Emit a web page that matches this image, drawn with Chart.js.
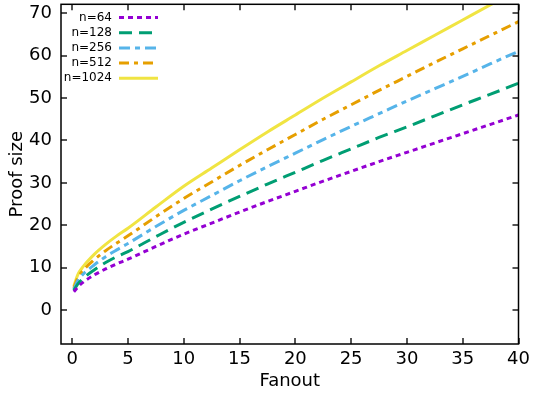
<!DOCTYPE html>
<html>
<head>
<meta charset="utf-8">
<script src="https://cdn.jsdelivr.net/npm/chart.js@4.4.0/dist/chart.umd.min.js"></script>
<style>
  html, body { margin: 0; padding: 0; background: #fff; }
  #wrap { width: 534px; height: 395px; }
</style>
</head>
<body>
<div id="wrap"><canvas id="c" width="534" height="395"></canvas></div>
<script>
// values
const fanout = [0.15, 0.5, 1, 2, 3, 4, 5, 7.5, 10, 12.5, 15, 17.5, 20, 22.5, 25, 27.5, 30, 32.5, 35, 37.5, 40];
const n64   = [4.3, 5.4, 6.6, 8.3, 9.7, 10.9, 12.0, 15.0, 17.9, 20.5, 23.1, 25.6, 28.0, 30.4, 32.7, 35.0, 37.2, 39.4, 41.6, 43.8, 46.0];
const n128  = [4.6, 6.1, 7.5, 9.5, 11.2, 12.6, 13.8, 17.3, 20.7, 23.8, 26.8, 29.7, 32.5, 35.3, 38.0, 40.7, 43.2, 45.8, 48.4, 50.9, 53.5];
const n256  = [4.9, 6.9, 8.5, 10.7, 12.6, 14.2, 15.7, 19.7, 23.5, 27.0, 30.5, 33.8, 37.0, 40.2, 43.3, 46.3, 49.3, 52.2, 55.1, 58.1, 61.0];
const n512  = [5.2, 7.6, 9.4, 11.9, 14.0, 15.8, 17.5, 22.0, 26.3, 30.2, 34.1, 37.8, 41.4, 45.0, 48.4, 51.8, 55.1, 58.4, 61.6, 64.8, 68.0];
const n1024 = [5.6, 8.3, 10.3, 13.2, 15.5, 17.5, 19.3, 24.3, 29.2, 33.5, 37.8, 42.0, 46.0, 50.0, 53.8, 57.6, 61.2, 64.8, 68.4, 72.0, 75.5];

const xTicks = [0, 5, 10, 15, 20, 25, 30, 35, 40];
const yTicks = [0, 10, 20, 30, 40, 50, 60, 70];

const seriesLabels = ['n=64', 'n=128', 'n=256', 'n=512', 'n=1024'];
const seriesValues = [n64, n128, n256, n512, n1024];
const seriesColors = ['#9400D3', '#009E73', '#56B4E9', '#E69F00', '#F0E442'];
const seriesDashes = [[5, 4], [13, 7], [11, 5, 5, 5], [10, 5, 4, 5], []];

const FONT = 'DejaVu Sans, sans-serif';

const datasets = seriesLabels.map((label, i) => ({
  label,
  data: fanout.map((x, j) => ({ x, y: seriesValues[i][j] })),
  borderColor: seriesColors[i],
  borderWidth: 3,
  borderDash: seriesDashes[i],
  pointRadius: 0,
  cubicInterpolationMode: 'monotone',
  fill: false,
}));

// border box, inward ticks on all sides and the gnuplot-style key
const frame = {
  id: 'frame',
  afterDatasetsDraw(chart) {
    const { ctx, chartArea: a, scales: { x, y } } = chart;
    ctx.save();
    ctx.strokeStyle = '#555';
    ctx.lineWidth = 2;
    ctx.beginPath();
    xTicks.forEach(v => {
      const px = Math.round(x.getPixelForValue(v));
      ctx.moveTo(px, a.bottom); ctx.lineTo(px, a.bottom - 6);
      ctx.moveTo(px, a.top); ctx.lineTo(px, a.top + 6);
    });
    yTicks.forEach(v => {
      const py = Math.round(y.getPixelForValue(v));
      ctx.moveTo(a.left, py); ctx.lineTo(a.left + 6, py);
      ctx.moveTo(a.right, py); ctx.lineTo(a.right - 6, py);
    });
    ctx.stroke();

    ctx.strokeStyle = '#000';
    ctx.lineWidth = 1.5;
    ctx.strokeRect(a.left, a.top, a.width, a.height);

    // key
    ctx.font = '12px ' + FONT;
    ctx.textAlign = 'right';
    ctx.textBaseline = 'middle';
    seriesLabels.forEach((label, i) => {
      const ly = 17.5 + i * 15.2;
      ctx.fillStyle = '#000';
      ctx.fillText(label, 112, ly);
      ctx.beginPath();
      ctx.strokeStyle = seriesColors[i];
      ctx.lineWidth = 3;
      ctx.setLineDash(seriesDashes[i]);
      ctx.moveTo(119, ly);
      ctx.lineTo(158, ly);
      ctx.stroke();
    });
    ctx.restore();
  }
};

new Chart(document.getElementById('c'), {
  type: 'line',
  data: { datasets },
  options: {
    responsive: false,
    animation: false,
    devicePixelRatio: 1,
    layout: { padding: { left: 0, right: 15.5, top: 4.3, bottom: 0 } },
    plugins: { legend: { display: false }, tooltip: { enabled: false } },
    scales: {
      x: {
        type: 'linear',
        min: -1,
        max: 40,
        grid: { display: false, drawTicks: false },
        border: { display: false },
        afterBuildTicks: s => { s.ticks = xTicks.map(v => ({ value: v })); },
        afterFit: s => {
          s.height = 51;
          s.paddingLeft = 0; s.paddingRight = 0;
        },
        ticks: { color: '#000', padding: 5, font: { family: FONT, size: 18 }, maxRotation: 0 },
        title: { display: true, text: 'Fanout', color: '#000', font: { family: FONT, size: 18 }, padding: { top: 0, bottom: 3 } },
      },
      y: {
        type: 'linear',
        min: -8,
        max: 72.1,
        grid: { display: false, drawTicks: false },
        border: { display: false },
        afterBuildTicks: s => { s.ticks = yTicks.map(v => ({ value: v })); },
        afterFit: s => {
          s.width = 61;
          s.paddingTop = 0; s.paddingBottom = 0;
        },
        ticks: { color: '#000', padding: 9, font: { family: FONT, size: 18 } },
        title: { display: true, text: 'Proof size', color: '#000', font: { family: FONT, size: 18 }, padding: { top: 7, bottom: 0 } },
      },
    },
  },
  plugins: [frame],
});
</script>
</body>
</html>
